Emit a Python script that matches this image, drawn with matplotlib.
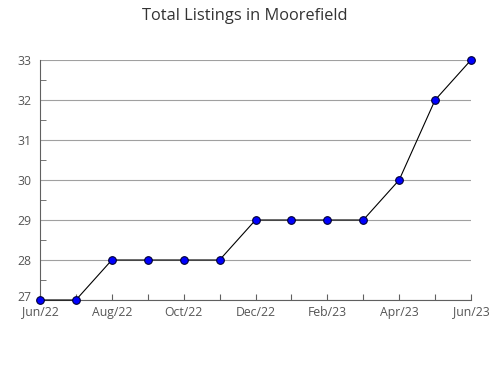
import matplotlib
matplotlib.use("Agg")
import matplotlib.pyplot as plt
import matplotlib.transforms as mtransforms
from matplotlib.ticker import MultipleLocator

plt.rcParams['font.family'] = ['Open Sans', 'DejaVu Sans']

months = ['Jun/22', 'Jul/22', 'Aug/22', 'Sep/22', 'Oct/22', 'Nov/22', 'Dec/22',
          'Jan/23', 'Feb/23', 'Mar/23', 'Apr/23', 'May/23', 'Jun/23']
listings = [27, 27, 28, 28, 28, 28, 29, 29, 29, 29, 30, 32, 33]
y_ticks = [27, 28, 29, 30, 31, 32, 33]

fig = plt.figure(figsize=(4.9, 3.8), dpi=100)
ax = fig.add_axes([40/490, 80/380, 431/490, 240/380])

x = list(range(len(months)))
ax.plot(x, listings, color='black', linewidth=0.8, marker='o', markersize=5.5,
        markerfacecolor='#0000ff', markeredgecolor='#000033', markeredgewidth=0.8,
        zorder=3, clip_on=False)

ax.set_xlim(0, len(months) - 1)
ax.set_ylim(y_ticks[0], y_ticks[-1])
ax.set_xticks(x)
ax.set_xticklabels([m if i % 2 == 0 else '' for i, m in enumerate(months)])
ax.set_yticks(y_ticks)
# lowest label drawn separately, a touch higher, so it clears "Jun/22"
ax.set_yticklabels([''] + [str(v) for v in y_ticks[1:]])
ax.yaxis.set_minor_locator(MultipleLocator(0.5))
ax.grid(axis='y', which='major', color='#a0a0a0', linewidth=0.8)

for s in ['top', 'right']:
    ax.spines[s].set_visible(False)
for s in ['left', 'bottom']:
    ax.spines[s].set_color('#606060')
    ax.spines[s].set_linewidth(0.8)

ax.tick_params(axis='x', direction='in', length=4, color='#606060', labelsize=8.8, labelcolor='#555555', pad=4)
ax.tick_params(axis='y', which='major', length=0, labelsize=8.8, labelcolor='#555555', pad=6)
ax.tick_params(axis='y', which='minor', direction='in', length=4, color='#606060')

off = mtransforms.ScaledTranslation(-6/72, 2/72, fig.dpi_scale_trans)
ax.text(0, y_ticks[0], str(y_ticks[0]), transform=ax.get_yaxis_transform() + off,
        ha='right', va='center', fontsize=8.8, color='#555555')

fig.suptitle('Total Listings in Moorefield', y=1 - 16/380, va='center', fontsize=11.8, color='#333333')

fig.savefig('out.png', dpi=100)
